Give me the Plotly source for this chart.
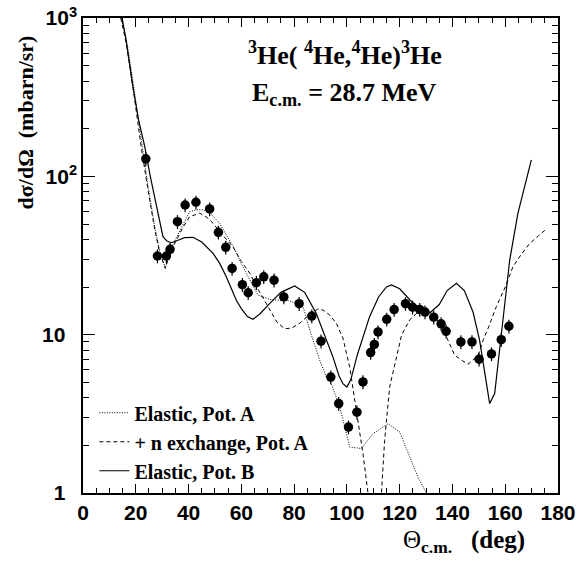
import plotly.graph_objects as go

# Experimental data
theta_exp = [23.8, 28.2, 31.6, 33.0, 35.8, 38.7, 42.8, 48.0, 51.3, 54.1, 56.5, 60.4, 62.6, 65.7,
             68.5, 72.4, 76.1, 81.9, 86.7, 90.2, 93.9, 96.9, 100.6, 103.8, 106.1, 109.0, 110.4,
             111.8, 115.1, 117.9, 122.2, 124.9, 127.6, 129.6, 132.9, 135.7, 137.6, 143.2, 147.4,
             150.1, 154.8, 158.5, 161.4]
sig_exp = [129, 31.4, 31.4, 34.6, 51.7, 65.9, 68.6, 62.2, 44.3, 35.6, 26.2, 20.7, 18.4, 21.3,
           23.2, 22.1, 17.3, 15.7, 13.1, 9.1, 5.4, 3.67, 2.61, 3.24, 5.03, 7.71, 8.67,
           10.4, 12.5, 14.4, 15.7, 14.9, 14.4, 13.9, 12.9, 11.7, 10.5, 9.0, 9.0,
           7.0, 7.56, 9.3, 11.3]

# Elastic, Pot. A (dotted)
theta_elA = [14.5, 16.8, 19.3, 22.3, 24.7, 27.2, 29.2, 31.2, 33.0, 35.4, 38.0, 40.4, 43.0, 45.5,
             48.0, 51.8, 54.3, 57.0, 60.0, 63.2, 66.3, 70.7, 74.0, 77.1, 80.0, 83.4, 85.9, 89.7,
             92.2, 93.5, 97.3, 101.1, 105.5, 109.9, 115.6, 120.0, 123.8, 127.0, 130.1, 132.0]
sig_elA = [1000, 680, 360, 155, 85, 48, 33, 26.5, 34, 41, 50, 59.8, 61.5, 61.4,
           59, 50.5, 42.6, 36, 28, 22, 17.8, 16.7, 16.5, 16.5, 16, 15.0, 10.7, 6.9,
           5.4, 5.2, 3.5, 1.95, 1.91, 2.37, 2.74, 2.43, 1.69, 1.25, 1.0, 0.85]

# + n exchange, Pot. A (dashed)
theta_exA = [14.3, 16.5, 19.0, 22.0, 24.5, 27.0, 29.0, 31.2, 33.0, 35.4, 38.0, 40.4, 44.2, 47.0,
             49.3, 51.8, 56.8, 60.0, 63.2, 67.0, 70.7, 73.5, 76.4, 79.0, 82.1, 86.0, 89.0, 91.0,
             93.5, 96.0, 98.5, 101.1, 103.6, 106.1, 108.0, 110.5, 113.1, 114.3, 116.2, 118.8,
             120.7, 123.8, 127.6, 131.4, 135.2, 137.7, 140.9, 143.5, 145.9, 149.7, 151.6, 154.0,
             156.6, 160.0, 162.9, 166.0, 169.3, 172.5, 175.6]
sig_exA = [1000, 680, 360, 155, 85, 48, 33, 26.2, 33, 39.6, 48, 55.6, 58.5, 55,
           50.5, 44.7, 35.9, 29, 24.4, 18.5, 14.3, 12, 10.9, 11, 11.8, 13.5, 14.5, 14.3,
           13.3, 11.8, 9.5, 6.2, 3.3, 1.77, 1.0, 0.6, 1.0, 2.15, 4.67, 7.2,
           9.9, 12.4, 14.2, 13.9, 11.8, 9.7, 7.4, 6.9, 6.5, 7.4, 9.2, 11.5,
           15.0, 20, 26.8, 32, 37.7, 42, 46.5]

# Elastic, Pot. B (solid)
theta_elB = [14.0, 14.8, 16.1, 18.9, 21.0, 23.4, 25.5, 27.2, 29.0, 30.3, 31.8, 33.5, 36.0, 38.5,
             41.7, 45.0, 49.3, 51.8, 54.3, 58.1, 60.0, 62.3, 64.4, 67.0, 70.7, 75.0, 80.2, 84.0,
             88.4, 91.5, 94.7, 97.0, 98.5, 100.0, 101.5, 104.0, 108.6, 112.0, 115.0, 116.9, 120.0,
             124.0, 127.5, 131.4, 135.0, 138.0, 141.5, 144.5, 147.8, 150.3, 152.0, 154.1, 156.0,
             158.5, 161.7, 164.8, 169.9]
sig_elB = [1250, 1000, 766, 369, 230, 154, 100, 72.7, 52, 41.6, 39, 38.1, 39.5, 41,
           41.2, 38.5, 32.6, 28.2, 23.2, 16.5, 14.6, 13, 12.5, 13.5, 15.7, 18.5, 20.3, 18.5,
           13.6, 10, 7.24, 5.5, 4.9, 4.67, 5.2, 7.5, 13.0, 17.3, 20, 20.6, 19.5,
           16.5, 14.5, 13.7, 15.5, 19, 21.1, 19, 13.9, 9.2, 6, 3.67, 4.25,
           9.7, 29.6, 58.4, 127]

x_ticks = [0, 20, 40, 60, 80, 100, 120, 140, 160, 180]
x_ticktext = ["<b>%d</b>" % v for v in x_ticks]
y_ticks = [1, 10, 100, 1000]
y_ticktext = ["<b>1\u00a0\u00a0</b>", "<b>10\u00a0\u00a0</b>",
              "<b>10<sup>2</sup></b>", "<b>10<sup>3</sup></b>"]
y_minor = [m * d for d in (1, 10, 100) for m in range(2, 10)]

serif = "Liberation Serif"
sans = "Liberation Sans"

# plot area in pixels (for placing texts)
PL, PR, PT, PB = 83.3, 558.0, 18.3, 492.7
def px(x):
    return (x - PL) / (PR - PL)
def py(y):
    return (PB - y) / (PB - PT)

fig = go.Figure()
fig.add_trace(go.Scatter(x=theta_elA, y=sig_elA, mode="lines", name="<b>Elastic, Pot. A</b>",
                         line=dict(color="black", width=1, dash="1px,1.5px"), legendgroup="a"))
fig.add_trace(go.Scatter(x=theta_exA, y=sig_exA, mode="lines", name="<b>+ n exchange, Pot. A</b>",
                         line=dict(color="black", width=1, dash="4px,3px"), legendgroup="b"))
fig.add_trace(go.Scatter(x=theta_elB, y=sig_elB, mode="lines", name="<b>Elastic, Pot. B</b>",
                         line=dict(color="black", width=1.2), legendgroup="c"))
fig.add_trace(go.Scatter(x=theta_exp, y=sig_exp, mode="markers", showlegend=False,
                         marker=dict(color="black", size=9.5, symbol="circle"),
                         error_y=dict(type="percent", value=10, width=0, thickness=1.2,
                                      color="black")))

fig.update_layout(
    width=580, height=563,
    margin=dict(l=83, r=22, t=18, b=70, autoexpand=False),
    plot_bgcolor="white", paper_bgcolor="white",
    showlegend=True,
    legend=dict(x=0.024, y=0.21, xanchor="left", yanchor="top",
                font=dict(family=serif, size=20, color="black"),
                bgcolor="rgba(0,0,0,0)", tracegroupgap=0, itemwidth=30),
    xaxis=dict(range=[0, 180], tickvals=x_ticks, ticktext=x_ticktext, ticks="inside",
               ticklen=9, tickwidth=1, automargin=False,
               mirror="ticks", showline=True, linecolor="black", linewidth=1.5,
               showgrid=False, zeroline=False,
               tickfont=dict(family=sans, size=21, color="black"),
               minor=dict(dtick=5, ticks="inside", ticklen=5, tickwidth=1, tickcolor="black"),
               tickcolor="black"),
    yaxis=dict(type="log", range=[0, 3], tickvals=y_ticks, ticktext=y_ticktext,
               ticks="inside", ticklen=12, tickwidth=1, mirror="ticks", showline=True,
               automargin=False,
               linecolor="black", linewidth=1.5, showgrid=False, zeroline=False,
               tickfont=dict(family=sans, size=21, color="black"),
               ticklabelstandoff=0,
               minor=dict(tickvals=y_minor, ticks="inside", ticklen=6, tickwidth=1,
                          tickcolor="black"),
               tickcolor="black"),
)

fig.add_annotation(text="<b><sup>3</sup>He( <sup>4</sup>He,<sup>4</sup>He)<sup>3</sup>He</b>",
                   xref="paper", yref="paper", x=px(345), y=py(35),
                   showarrow=False,
                   font=dict(family=serif, size=26, color="black"))
fig.add_annotation(text="<b>E<sub>c.m.</sub> = 28.7 MeV</b>",
                   xref="paper", yref="paper", x=px(345), y=py(76),
                   showarrow=False,
                   font=dict(family=serif, size=26, color="black"))
fig.add_annotation(text="<b>d\u03c3/d\u03a9\u00a0\u00a0(mbarn/sr)</b>", textangle=-90,
                   xref="paper", yref="paper", x=px(26), y=py(34),
                   xanchor="center", yanchor="top", showarrow=False,
                   font=dict(family=serif, size=22, color="black"))
fig.add_annotation(text="\u0398<b><sub>c.m.</sub>\u00a0\u00a0\u00a0(deg)</b>",
                   xref="paper", yref="paper", x=px(527), y=py(524),
                   xanchor="right", yanchor="top", showarrow=False,
                   font=dict(family=serif, size=25, color="black"))

fig.write_html("out.html")
